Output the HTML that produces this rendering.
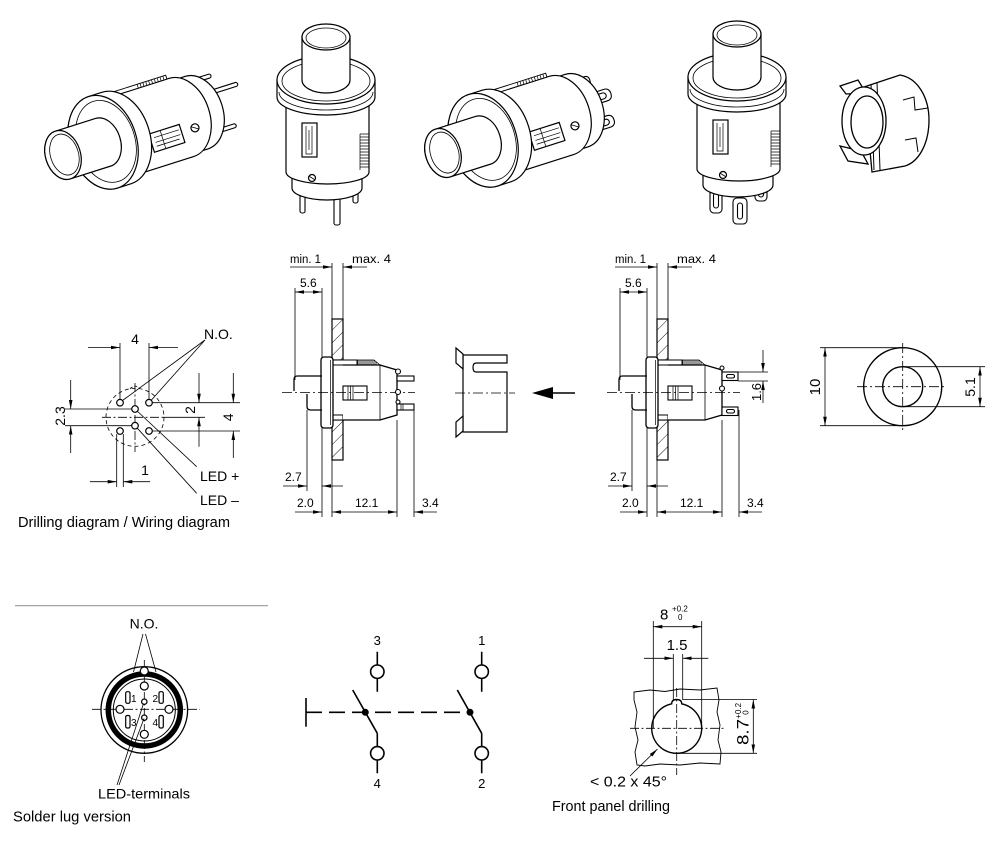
<!DOCTYPE html>
<html><head><meta charset="utf-8">
<style>
html,body{margin:0;padding:0;background:#fff;width:1000px;height:843px;overflow:hidden}
svg{display:block}
text{font-family:"Liberation Sans",Arial,sans-serif;fill:#000;stroke:none}
</style></head><body>
<svg xmlns="http://www.w3.org/2000/svg" width="1000" height="843" viewBox="0 0 1000 843">
<defs>
<marker id="a" viewBox="0 0 10 4" refX="10" refY="2" markerWidth="9" markerHeight="3.6" markerUnits="userSpaceOnUse" orient="auto-start-reverse"><path d="M0,0L10,2L0,4z" fill="#000" stroke="none"/></marker>
<pattern id="h" width="9" height="9" patternUnits="userSpaceOnUse" patternTransform="rotate(45)"><line x1="0" y1="0" x2="0" y2="9" stroke="#000" stroke-width="0.9"/></pattern>
</defs>
<rect width="1000" height="843" fill="#fff"/>

<!-- ===== TOP ISOMETRIC IMAGES ===== -->
<g transform="translate(63,155) rotate(-17.6)" fill="#fff" stroke="#000" stroke-width="1.1">
 <rect x="135" y="-33" width="30" height="4" rx="2"/>
 <rect x="135" y="-17" width="53" height="4" rx="2"/>
 <rect x="135" y="22" width="39" height="4" rx="2"/>
</g>
<g transform="translate(443,153) rotate(-17.6)" fill="#fff" stroke="#000" stroke-width="1.1">
 <rect x="135" y="-30" width="27" height="10" rx="4"/>
 <rect x="143" y="-27.5" width="14" height="5" rx="2.5"/>
 <rect x="140" y="-12" width="38" height="12" rx="5"/>
 <rect x="155" y="-9" width="18" height="6" rx="3"/>
 <rect x="138" y="14" width="35" height="12" rx="5"/>
 <rect x="152" y="17" width="16" height="6" rx="3"/>
</g>
<g id="hs" transform="translate(63,155) rotate(-17.6)" fill="#fff" stroke="#000" stroke-width="1.2">
 <path d="M124,-38 L140,-38 A26.6,38 0 0 1 140,38 L124,38 A26.6,38 0 0 1 124,-38Z"/>
 <path d="M56,-41 L124,-41 A28.7,41 0 0 1 124,41 L56,41 A28.7,41 0 0 1 56,-41Z"/>
 <rect x="60" y="-45" width="62" height="4" stroke-width="0.9"/>
 <path d="M92,-45v4M95,-45v4M98,-45v4M101,-45v4M104,-45v4M107,-45v4M110,-45v4M113,-45v4M116,-45v4M119,-45v4" stroke-width="0.7" fill="none"/>
 <rect x="88" y="6" width="32" height="19"/>
 <path d="M92,11H118M92,16H118M92,20H116M100,6V25" fill="none" stroke-width="0.7"/>
 <circle cx="134" cy="14" r="4"/>
 <path d="M131,12L137,16" fill="none" stroke-width="0.8"/>
 <path d="M42,-48 L56,-48 A33.6,48 0 0 1 56,48 L42,48 A33.6,48 0 0 1 42,-48Z"/>
 <ellipse cx="42" cy="0" rx="33.6" ry="48"/>
 <ellipse cx="45" cy="0" rx="29" ry="42" fill="none" stroke-width="0.8"/>
 <path d="M0,-25 L42,-25 A17.5,25 0 0 1 42,25 L0,25 A17.5,25 0 0 1 0,-25Z"/>
 <ellipse cx="0" cy="0" rx="17.5" ry="25"/>
 <ellipse cx="1.5" cy="0" rx="14" ry="21" fill="none" stroke-width="0.8"/>
</g>
<use href="#hs" transform="translate(380,-2)"/>

<g fill="#fff" stroke="#000" stroke-width="1.1">
 <rect x="300" y="188" width="5" height="25" rx="2"/>
 <rect x="334" y="195" width="6" height="30" rx="2"/>
 <rect x="353" y="186" width="5" height="17" rx="2"/>
</g>
<g fill="#fff" stroke="#000" stroke-width="1.1">
 <rect x="710" y="188" width="12" height="25" rx="4"/>
 <rect x="713.5" y="193" width="5" height="15" rx="2.5"/>
 <rect x="733" y="198" width="14" height="26" rx="4"/>
 <rect x="737.5" y="203" width="5" height="16" rx="2.5"/>
 <rect x="755" y="185" width="12" height="16" rx="4"/>
 <rect x="758.5" y="189" width="5" height="8" rx="2.5"/>
</g>
<g id="vs" fill="#fff" stroke="#000" stroke-width="1.2">
 <path d="M292,172 V188 A35,12 0 0 0 362,188 V172 Z"/>
 <path d="M286,100 V172 A41.5,12 0 0 0 369,172 V100 Z"/>
 <rect x="302" y="123" width="15" height="34"/>
 <path d="M306,126V154H312V126M309,130V150" fill="none" stroke-width="0.7"/>
 <path d="M360,134h9M360,137h9M360,140h9M360,143h9M360,146h9M360,149h9M360,152h9M360,155h9M360,158h9M360,161h9M360,164h9M360,167h9M360,134V170" fill="none" stroke-width="0.7"/>
 <circle cx="312" cy="178" r="3.5"/>
 <path d="M309.5,176.5L314.5,179.5" fill="none" stroke-width="0.8"/>
 <path d="M277,80 V97 A49,18 0 0 0 375,97 V80 Z"/>
 <path d="M279,92 A47,18 0 0 0 373,92" fill="none" stroke-width="0.8"/>
 <ellipse cx="326" cy="80" rx="49" ry="24"/>
 <ellipse cx="326" cy="81" rx="44" ry="20" fill="none" stroke-width="0.8"/>
 <path d="M302,37 V80 A24,13 0 0 0 350,80 V37 Z"/>
 <ellipse cx="326" cy="37" rx="24" ry="13"/>
 <ellipse cx="326" cy="38" rx="20" ry="10" fill="none" stroke-width="0.8"/>
</g>
<use href="#vs" transform="translate(411,-3)"/>

<g fill="#fff" stroke="#000" stroke-width="1.3">
 <path d="M864,87 L900,75 C918,78 929,98 929,120 C929,145 918,162 905,166 L872,172 Z"/>
 <path d="M903,100 L914,97 L915,110 L928,108 M905,140 L916,138 L918,152" fill="none" stroke-width="1"/>
 <path d="M871,84 L874,170 M877,82 L880,170" fill="none" stroke-width="1"/>
 <polygon points="840,86 858,80 866,93 846,94"/>
 <polygon points="840,146 861,151 868,164 848,161"/>
 <ellipse cx="864" cy="121" rx="22" ry="34"/>
 <ellipse cx="867" cy="122" rx="16" ry="26"/>
</g>

<!-- ===== SIDE VIEW (shared) ===== -->
<g id="sv" fill="none" stroke="#000">
 <rect x="332" y="319" width="11" height="41" fill="url(#h)" stroke-width="1.2"/>
 <rect x="332" y="420" width="11" height="40" fill="url(#h)" stroke-width="1.2"/>
 <rect x="333" y="415" width="10" height="5" fill="#fff" stroke-width="1"/>
 <rect x="333" y="360" width="24" height="5" fill="#fff" stroke-width="1"/>
 <path d="M343,365 H380 L397,370 V415 L380,420 H343" fill="#fff" stroke-width="1.3"/>
 <path d="M380,365V420" stroke-width="0.8"/>
 <path d="M357,360 H374 L380,365 M358,360v5M360,360v5M362,360v5M364,360v5M366,360v5M368,360v5M370,360v5M372,360v5M374,360v5M376,361v4" stroke-width="0.8"/>
 <rect x="343" y="386" width="24" height="14" fill="#fff" stroke-width="1.1"/>
 <path d="M348,386V400M350.5,386V400M353,386V400" stroke-width="0.7"/>
 <rect x="321" y="357" width="12" height="71" rx="3" fill="#fff" stroke-width="1.3"/>
 <path d="M330.5,360V425" stroke-width="0.7"/>
 <path d="M322,376 H297.5 Q294,376 294,379.5 V391 M307,394 V406.5 Q307,410 310.5,410 H322" stroke-width="1.3"/>
 <line x1="282" y1="392.5" x2="415" y2="392.5" stroke-width="0.8" stroke-dasharray="10,3,2,3"/>
 <g stroke-width="0.8">
  <path d="M332,263V319M343,263V319M332,460V517M295,288V380M322,288V357M322,428V517M307,410V491M397,420V517M414,410V517"/>
  <line x1="290" y1="267" x2="332" y2="267" marker-end="url(#a)"/>
  <line x1="367" y1="267" x2="343" y2="267" marker-end="url(#a)"/>
  <line x1="295" y1="292" x2="322" y2="292" marker-start="url(#a)" marker-end="url(#a)"/>
  <line x1="283" y1="486" x2="307" y2="486" marker-end="url(#a)"/>
  <line x1="343" y1="486" x2="322" y2="486" marker-end="url(#a)"/>
  <line x1="295" y1="512" x2="322" y2="512" marker-end="url(#a)"/>
  <line x1="332" y1="512" x2="397" y2="512" marker-start="url(#a)" marker-end="url(#a)"/>
  <line x1="437" y1="512" x2="414" y2="512" marker-end="url(#a)"/>
 </g>
 <text x="290" y="263" font-size="11.5" textLength="31" lengthAdjust="spacingAndGlyphs">min. 1</text>
 <text x="352" y="263" font-size="11.5" textLength="39" lengthAdjust="spacingAndGlyphs">max. 4</text>
 <text x="300" y="287" font-size="12">5.6</text>
 <text x="285" y="481" font-size="12">2.7</text>
 <text x="297" y="507" font-size="12">2.0</text>
 <text x="355" y="507" font-size="12">12.1</text>
 <text x="422" y="507" font-size="12">3.4</text>
</g>
<use href="#sv" transform="translate(325,0)"/>

<g fill="#fff" stroke="#000" stroke-width="1.1">
 <circle cx="398" cy="371.5" r="2.5"/>
 <circle cx="398" cy="392" r="2.5"/>
 <circle cx="398" cy="402" r="2"/>
 <rect x="397" y="376" width="17" height="5"/>
 <rect x="397" y="404" width="17" height="6"/>
 <path d="M401,404V410M403,404V410" stroke-width="0.7" fill="none"/>
</g>
<g fill="#fff" stroke="#000" stroke-width="1.1">
 <circle cx="722" cy="368" r="2"/>
 <circle cx="722" cy="388.5" r="2.5"/>
 <rect x="722" y="372" width="16" height="8.5"/>
 <rect x="726.5" y="374.5" width="8" height="3.5" rx="1.7"/>
 <rect x="722" y="407" width="16" height="8.5"/>
 <rect x="726.5" y="409.5" width="8" height="3.5" rx="1.7"/>
</g>
<g fill="none" stroke="#000" stroke-width="0.8">
 <path d="M738,372H768M738,381H768"/>
 <line x1="763" y1="350" x2="763" y2="372" marker-end="url(#a)"/>
 <line x1="763" y1="403" x2="763" y2="381" marker-end="url(#a)"/>
</g>
<text transform="translate(761,392) rotate(-90)" text-anchor="middle" font-size="13">1.6</text>

<g fill="#fff" stroke="#000" stroke-width="1.2">
 <path d="M463,355 H507 V363 H476 Q473,363 473,367.5 Q473,372 476,372 H507 V432 H463 Z"/>
 <polygon points="456,348 463,354 463,369 456,363"/>
 <polygon points="456,437 463,431 463,416 456,422"/>
</g>
<line x1="455" y1="393" x2="515" y2="393" stroke="#000" stroke-width="0.8" stroke-dasharray="10,3,2,3"/>
<polygon points="532,393 553,387 553,399" fill="#000"/>
<line x1="552" y1="393" x2="575" y2="393" stroke="#000" stroke-width="1.6"/>

<g fill="none" stroke="#000">
 <circle cx="902.7" cy="386.7" r="39" stroke-width="1.4"/>
 <circle cx="902.7" cy="386.7" r="20" stroke-width="1.4"/>
 <g stroke-width="0.8">
  <line x1="902.7" y1="343" x2="902.7" y2="433" stroke-dasharray="10,3,2,3"/>
  <line x1="857" y1="386.7" x2="947" y2="386.7" stroke-dasharray="10,3,2,3"/>
  <path d="M820,347.7H903M820,425.7H903M903,366.7H985M903,406.7H985"/>
  <line x1="825" y1="347.7" x2="825" y2="425.7" marker-start="url(#a)" marker-end="url(#a)"/>
  <line x1="980" y1="366.7" x2="980" y2="406.7" marker-start="url(#a)" marker-end="url(#a)"/>
 </g>
</g>
<text transform="translate(820,387) rotate(-90)" text-anchor="middle" font-size="15">10</text>
<text transform="translate(975,387) rotate(-90)" text-anchor="middle" font-size="14">5.1</text>

<!-- ===== DRILLING DIAGRAM ===== -->
<g fill="none" stroke="#000" stroke-width="0.8">
 <line x1="88" y1="347.5" x2="120" y2="347.5" marker-end="url(#a)"/>
 <line x1="178" y1="347.5" x2="149" y2="347.5" marker-end="url(#a)"/>
 <path d="M120,343V399.5M149,343V399.5"/>
 <path d="M152,402.7H240M152,431H240M65,409H131.7M65,425.7H131.7M163,417.3H205"/>
 <line x1="102" y1="417.3" x2="163" y2="417.3" stroke-dasharray="9,2.5,2,2.5"/>
 <line x1="70.7" y1="380" x2="70.7" y2="409" marker-end="url(#a)"/>
 <line x1="70.7" y1="453" x2="70.7" y2="425.7" marker-end="url(#a)"/>
 <line x1="199" y1="373" x2="199" y2="402.7" marker-end="url(#a)"/>
 <line x1="199" y1="446.7" x2="199" y2="417.3" marker-end="url(#a)"/>
 <line x1="233.3" y1="373" x2="233.3" y2="402.7" marker-end="url(#a)"/>
 <line x1="233.3" y1="458" x2="233.3" y2="431" marker-end="url(#a)"/>
 <path d="M116.7,434V487M123.3,434V487"/>
 <line x1="90" y1="481.7" x2="116.7" y2="481.7" marker-end="url(#a)"/>
 <line x1="150" y1="481.7" x2="123.3" y2="481.7" marker-end="url(#a)"/>
 <circle cx="135" cy="417.3" r="29" stroke-dasharray="4,3"/>
 <path d="M130,388.8Q135,383.5 140,388.8" stroke-dasharray="3,2"/>
 <line x1="135" y1="383" x2="135" y2="452" stroke-dasharray="9,2.5,2,2.5"/>
 <path d="M205,340L122.5,400.5M205,340L151,400.5M135,409L196.7,466.7M135,425.7L196.7,493.3"/>
</g>
<g fill="#fff" stroke="#000" stroke-width="1.2">
 <circle cx="120" cy="402.7" r="3.3"/>
 <circle cx="149" cy="402.7" r="3.3"/>
 <circle cx="135" cy="409" r="3.3"/>
 <circle cx="135" cy="425.7" r="3.3"/>
 <circle cx="120" cy="431" r="3.3"/>
 <circle cx="149" cy="431" r="3.3"/>
</g>
<text x="135" y="344" text-anchor="middle" font-size="14">4</text>
<text x="145" y="475" text-anchor="middle" font-size="14">1</text>
<text transform="translate(65,416) rotate(-90)" text-anchor="middle" font-size="14">2.3</text>
<text transform="translate(195,410) rotate(-90)" text-anchor="middle" font-size="14">2</text>
<text transform="translate(233,417.3) rotate(-90)" text-anchor="middle" font-size="14">4</text>
<text x="204" y="339" font-size="14">N.O.</text>
<text x="200" y="481" font-size="14">LED +</text>
<text x="200" y="505" font-size="14">LED –</text>
<text x="18" y="527" font-size="15" textLength="212" lengthAdjust="spacingAndGlyphs">Drilling diagram / Wiring diagram</text>

<line x1="15" y1="605.7" x2="268" y2="605.7" stroke="#999" stroke-width="1.2"/>

<!-- ===== SOLDER LUG VERSION ===== -->
<g fill="none" stroke="#000">
 <circle cx="144.3" cy="710" r="43.3" stroke-width="1.3"/>
 <circle cx="144.3" cy="710" r="36" stroke-width="5.5"/>
 <circle cx="144.3" cy="710" r="31" stroke-width="1"/>
 <line x1="92" y1="709.3" x2="200" y2="709.3" stroke-width="0.8" stroke-dasharray="9,2.5,2,2.5"/>
 <line x1="144.3" y1="660" x2="144.3" y2="762" stroke-width="0.8" stroke-dasharray="9,2.5,2,2.5"/>
 <g fill="#fff" stroke-width="1.2">
  <circle cx="144.3" cy="671" r="4"/>
  <circle cx="144.3" cy="686" r="4"/>
  <circle cx="120" cy="709.3" r="4"/>
  <circle cx="169" cy="709.3" r="4"/>
  <circle cx="144.3" cy="734.3" r="4"/>
  <circle cx="144.3" cy="701.7" r="2.7"/>
  <circle cx="144.3" cy="717.7" r="2.7"/>
  <rect x="125.7" y="691.7" width="4.3" height="11.6" rx="1.5"/>
  <rect x="159" y="691.7" width="4.3" height="11.6" rx="1.5"/>
  <rect x="125.7" y="715.5" width="4.3" height="12.5" rx="1.5"/>
  <rect x="159" y="715.5" width="4.3" height="12.5" rx="1.5"/>
 </g>
 <path d="M143,634L133.5,672M145.5,634L156,672M117,785L143.5,703.5M119,785L144,718.5" stroke-width="0.8"/>
</g>
<text x="131" y="702" font-size="10">1</text>
<text x="152.5" y="702" font-size="10">2</text>
<text x="131" y="726" font-size="10">3</text>
<text x="152.5" y="726" font-size="10">4</text>
<text x="144" y="628.3" text-anchor="middle" font-size="14">N.O.</text>
<text x="98" y="798.3" font-size="14" textLength="92" lengthAdjust="spacingAndGlyphs">LED-terminals</text>
<text x="13" y="821.7" font-size="15" textLength="118" lengthAdjust="spacingAndGlyphs">Solder lug version</text>

<!-- ===== SWITCH SCHEMATIC ===== -->
<g stroke="#000" stroke-width="1.6" fill="none">
 <path d="M377.3,651.7V665M377.3,678.3V691.7M377.3,733.3V746.7M377.3,760V773.3"/>
 <path d="M481.7,651.7V665M481.7,678.3V691.7M481.7,733.3V746.7M481.7,760V773.3"/>
 <circle cx="377.3" cy="671.7" r="6.7" fill="#fff"/>
 <circle cx="377.3" cy="753.3" r="6.7" fill="#fff"/>
 <circle cx="481.7" cy="671.7" r="6.7" fill="#fff"/>
 <circle cx="481.7" cy="753.3" r="6.7" fill="#fff"/>
 <path d="M352.7,690L377.3,733.3M457.3,690L481.7,733.3"/>
 <path d="M306,698V726.7"/>
 <line x1="306" y1="712.3" x2="470" y2="712.3" stroke-dasharray="16,7"/>
 <circle cx="365.3" cy="712.3" r="2.7" fill="#000"/>
 <circle cx="470" cy="712.3" r="2.7" fill="#000"/>
</g>
<text x="377.3" y="645" text-anchor="middle" font-size="13">3</text>
<text x="481.7" y="645" text-anchor="middle" font-size="13">1</text>
<text x="377.3" y="788" text-anchor="middle" font-size="13">4</text>
<text x="481.7" y="788" text-anchor="middle" font-size="13">2</text>

<!-- ===== FRONT PANEL DRILLING ===== -->
<g fill="none" stroke="#000">
 <polygon points="634,692 650,690 665,691.5 680,689 700,690 717,688 719,700 717,712 720,725 718,740 721,752 720,764 700,763 680,765 660,764 645,766 637,765 635,752 638,740 635,727 637,712 634,700" stroke-width="0.9"/>
 <path d="M671.7,703.8 A25,25 0 1,0 681.7,703.8 Q681.7,699.5 676.7,699.5 Q671.7,699.5 671.7,703.8Z" stroke-width="1.4" fill="#fff"/>
 <g stroke-width="0.8">
  <line x1="630" y1="728.3" x2="725" y2="728.3" stroke-dasharray="9,2.5,2,2.5"/>
  <line x1="676.7" y1="688" x2="676.7" y2="775" stroke-dasharray="9,2.5,2,2.5"/>
  <path d="M653.3,621V728M701.7,621V728M673.3,654V700M682.7,654V700M683,699.5H757M677,753.3H757"/>
  <line x1="653.3" y1="626.7" x2="701.7" y2="626.7" marker-start="url(#a)" marker-end="url(#a)"/>
  <line x1="644" y1="658.3" x2="673.3" y2="658.3" marker-end="url(#a)"/>
  <line x1="708.3" y1="658.3" x2="682.7" y2="658.3" marker-end="url(#a)"/>
  <line x1="753.3" y1="699.5" x2="753.3" y2="753.3" marker-start="url(#a)" marker-end="url(#a)"/>
  <line x1="630" y1="776" x2="657.5" y2="749" marker-end="url(#a)"/>
 </g>
</g>
<text x="660" y="619.3" font-size="15">8</text>
<text x="672" y="611.7" font-size="8">+0.2</text>
<text x="678" y="620" font-size="8">0</text>
<text x="677" y="650" text-anchor="middle" font-size="15">1.5</text>
<text transform="translate(748.5,732) rotate(-90)" text-anchor="middle" font-size="17" textLength="26" lengthAdjust="spacingAndGlyphs">8.7</text>
<text transform="translate(741.2,710.8) rotate(-90)" text-anchor="middle" font-size="8">+0.2</text>
<text transform="translate(748.4,712.5) rotate(-90)" text-anchor="middle" font-size="8">0</text>
<text x="590" y="786.7" font-size="15" textLength="77" lengthAdjust="spacingAndGlyphs">&lt; 0.2 x 45°</text>
<text x="552" y="811" font-size="15" textLength="118" lengthAdjust="spacingAndGlyphs">Front panel drilling</text>
</svg>
</body></html>
